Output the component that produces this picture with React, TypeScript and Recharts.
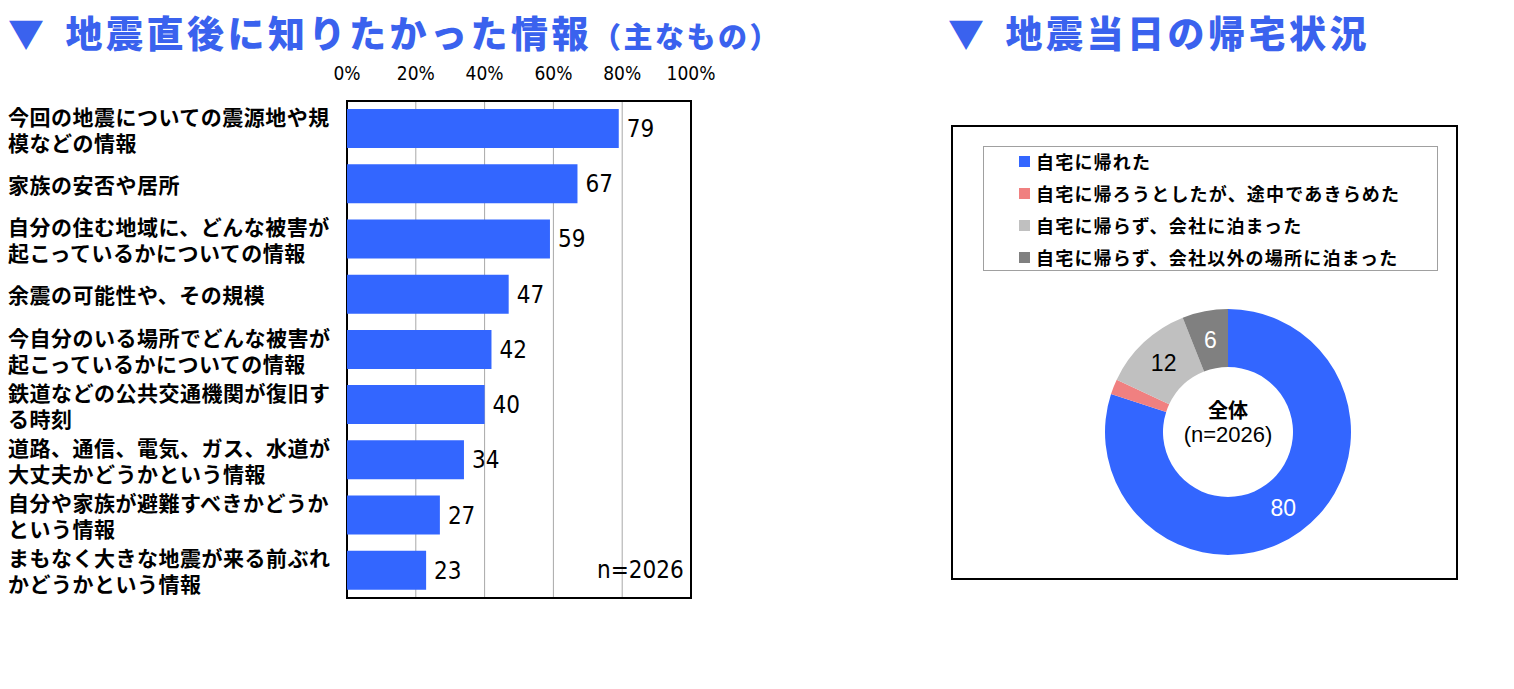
import React from 'react';
import {
  BarChart,
  Bar,
  XAxis,
  YAxis,
  CartesianGrid,
  LabelList,
  ReferenceArea,
  PieChart,
  Pie,
  Cell,
  Legend,
} from 'recharts';

// 地震直後に知りたかった情報 (%)
const infoCategories = [
  '今回の地震についての震源地や規\n模などの情報',
  '家族の安否や居所',
  '自分の住む地域に、どんな被害が\n起こっているかについての情報',
  '余震の可能性や、その規模',
  '今自分のいる場所でどんな被害が\n起こっているかについての情報',
  '鉄道などの公共交通機関が復旧す\nる時刻',
  '道路、通信、電気、ガス、水道が\n大丈夫かどうかという情報',
  '自分や家族が避難すべきかどうか\nという情報',
  'まもなく大きな地震が来る前ぶれ\nかどうかという情報',
];
const infoValues = [79, 67, 59, 47, 42, 40, 34, 27, 23];
const percentTicks = [0, 20, 40, 60, 80, 100];

// 地震当日の帰宅状況 (%)
const homeCategories = [
  '自宅に帰れた',
  '自宅に帰ろうとしたが、途中であきらめた',
  '自宅に帰らず、会社に泊まった',
  '自宅に帰らず、会社以外の場所に泊まった',
];
const homeValues = [80, 2, 12, 6];
const homeColors = ['#3366FF', '#F08080', '#C0C0C0', '#808080'];
const homeLabelColors = ['#FFFFFF', null, '#000000', '#FFFFFF'];

const BLUE = '#3A62EE';
const JP = "'Noto Sans CJK JP', 'Noto Sans', sans-serif";
const NARROW = "'Liberation Sans Narrow', 'DejaVu Sans Condensed', 'Liberation Sans', sans-serif";

const barData = infoCategories.map((name, i) => ({ name, value: infoValues[i] }));
const pieData = homeCategories.map((name, i) => ({ name, value: homeValues[i] }));

const CategoryTick = ({ y, payload }: any) => {
  const lines = String(payload.value).split('\n');
  const lh = 26;
  const start = y - ((lines.length - 1) * lh) / 2;
  return (
    <g>
      {lines.map((l, i) => (
        <text
          key={i}
          x={8}
          y={start + i * lh}
          dominantBaseline="central"
          fontFamily={JP}
          fontWeight={700}
          fontSize={21}
          letterSpacing={0.5}
          fill="#000"
          textAnchor="start"
        >
          {l}
        </text>
      ))}
    </g>
  );
};

const PercentTick = ({ x, y, payload }: any) => (
  <text
    x={x}
    y={y - 20}
    textAnchor="middle"
    dominantBaseline="central"
    fontFamily={NARROW}
    fontSize={19}
    fill="#000"
  >
    {payload.value}%
  </text>
);

const SliceLabel = (props: any) => {
  const { cx, cy, midAngle, innerRadius, outerRadius, index, value } = props;
  const color = homeLabelColors[index];
  if (!color) return null;
  const r = (innerRadius + outerRadius) / 2;
  const rad = (Math.PI / 180) * midAngle;
  return (
    <g>
      {index === 0 && (
        <g>
          <text x={cx} y={cy - 23} textAnchor="middle" dominantBaseline="central" fontFamily={JP} fontWeight={700} fontSize={20} fill="#000">
            全体
          </text>
          <text x={cx} y={cy + 2} textAnchor="middle" dominantBaseline="central" fontFamily="'Liberation Sans', Arial, sans-serif" fontSize={22} fill="#000">
            (n=2026)
          </text>
        </g>
      )}
      <text
        x={cx + r * Math.cos(rad)}
        y={cy - r * Math.sin(rad)}
        textAnchor="middle"
        dominantBaseline="central"
        fontFamily="'Liberation Sans', Arial, sans-serif"
        fontSize={23}
        fill={color}
      >
        {value}
      </text>
    </g>
  );
};

const LegendBox = ({ payload }: any) => (
  <div
    style={{
      border: '1px solid #A0A0A0',
      width: 455,
      height: 125,
      boxSizing: 'border-box',
      paddingLeft: 35,
      textAlign: 'left',
    }}
  >
    {payload.map((p: any, i: number) => (
      <div key={i} style={{ display: 'flex', alignItems: 'center', height: 28, marginBottom: 4 }}>
        <span style={{ width: 11, height: 11, background: p.color, marginRight: 6, display: 'inline-block' }} />
        <span style={{ fontFamily: JP, fontWeight: 700, fontSize: 18, letterSpacing: 1.2, color: '#000', lineHeight: '28px' }}>{p.value}</span>
      </div>
    ))}
  </div>
);

const titleStyle: React.CSSProperties = {
  position: 'absolute',
  top: 4,
  fontFamily: JP,
  fontWeight: 900,
  fontSize: 37,
  letterSpacing: 3.5,
  color: BLUE,
  whiteSpace: 'nowrap',
  lineHeight: '56px',
};

export default function App() {
  return (
    <div style={{ position: 'absolute', left: 0, top: 0, width: 1514, height: 689, background: '#fff', overflow: 'hidden' }}>
      <div style={{ ...titleStyle, left: 8 }}>
        <span style={{ fontSize: 36, marginRight: 18 }}>▼</span>
        地震直後に知りたかった情報
        <span style={{ fontSize: 29, letterSpacing: 2.5 }}>（主なもの）</span>
      </div>
      <div style={{ ...titleStyle, left: 948 }}>
        <span style={{ fontSize: 36, marginRight: 18 }}>▼</span>
        地震当日の帰宅状況
      </div>

      <div style={{ position: 'absolute', left: 0, top: 0 }}>
        <BarChart
          width={720}
          height={620}
          data={barData}
          layout="vertical"
          margin={{ top: 61, right: 29, bottom: 22, left: 7 }}
          barCategoryGap="14.5%"
        >
          <CartesianGrid horizontal={false} stroke="#A8A8A8" strokeWidth={1} />
          <XAxis
            type="number"
            orientation="top"
            domain={[0, 100]}
            ticks={percentTicks}
            height={40}
            axisLine={false}
            tickLine={false}
            tick={<PercentTick />}
            interval={0}
          />
          <YAxis
            type="category"
            dataKey="name"
            width={340}
            axisLine={false}
            tickLine={false}
            tick={<CategoryTick />}
            interval={0}
          />
          <Bar dataKey="value" fill="#3366FF" isAnimationActive={false}>
            <LabelList dataKey="value" position="right" offset={8} fontFamily={NARROW} fontSize={24} fill="#000" />
          </Bar>
          <ReferenceArea x1={0} x2={100} fill="none" stroke="#000" strokeWidth={2} ifOverflow="visible" />
        </BarChart>
      </div>
      <div style={{ position: 'absolute', left: 597, top: 556, fontFamily: NARROW, fontSize: 24, color: '#000' }}>n=2026</div>

      <div
        style={{
          position: 'absolute',
          left: 951,
          top: 125,
          width: 507,
          height: 455,
          border: '2px solid #000',
          boxSizing: 'border-box',
        }}
      >
        <PieChart width={503} height={451} margin={{ top: 0, right: 0, bottom: 0, left: 0 }}>
          <Legend
            content={<LegendBox />}
            layout="vertical"
            verticalAlign="middle"
            align="center"
            itemSorter={(item: any) => homeCategories.indexOf(item.value)}
            wrapperStyle={{ left: 30, top: 19, width: 455, height: 125 }}
          />
          <Pie
            data={pieData}
            dataKey="value"
            nameKey="name"
            cx={275}
            cy={305}
            innerRadius={65}
            outerRadius={123}
            startAngle={90}
            endAngle={-270}
            stroke="none"
            label={<SliceLabel />}
            labelLine={false}
            isAnimationActive={false}
          >
            {pieData.map((d, i) => (
              <Cell key={d.name} fill={homeColors[i]} />
            ))}
          </Pie>
        </PieChart>
      </div>
    </div>
  );
}
